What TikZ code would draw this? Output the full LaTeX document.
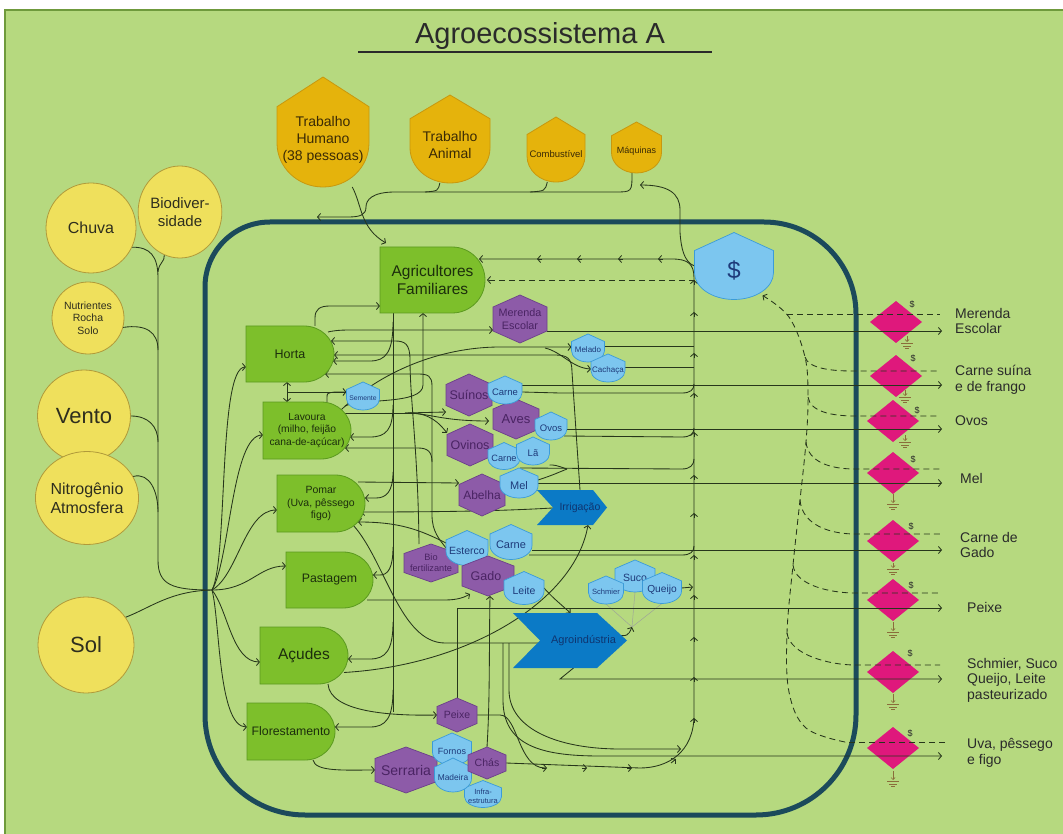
\documentclass[tikz,border=0pt]{standalone}
\usepackage{fontspec}
\setmainfont{Liberation Sans}
\usetikzlibrary{arrows.meta,calc,shapes.geometric}
\pgfdeclarelayer{back}\pgfdeclarelayer{lines}
\pgfsetlayers{back,lines,main}
\definecolor{bg}{HTML}{B6D97F}
\definecolor{frame}{HTML}{6F9A3C}
\definecolor{bnd}{HTML}{1B4A5B}
\definecolor{ysrc}{HTML}{EFE05C}
\definecolor{ysrcb}{HTML}{B09A3A}
\definecolor{srct}{HTML}{2E2E1E}
\definecolor{gold}{HTML}{E5B30C}
\definecolor{goldb}{HTML}{C8980E}
\definecolor{goldt}{HTML}{3A2A05}
\definecolor{prodf}{HTML}{7DBF2B}
\definecolor{prodb}{HTML}{5B9A1F}
\definecolor{prodt}{HTML}{1C2E0C}
\definecolor{purf}{HTML}{8D5BA8}
\definecolor{purb}{HTML}{6B3F8A}
\definecolor{purt}{HTML}{4A2463}
\definecolor{blf}{HTML}{7CC6EF}
\definecolor{blb}{HTML}{3B9BD8}
\definecolor{blt}{HTML}{1E3A7A}
\definecolor{chev}{HTML}{0B7AC6}
\definecolor{chevt}{HTML}{0F3570}
\definecolor{pink}{HTML}{DF187C}
\definecolor{lc}{HTML}{27361B}
\definecolor{gndc}{HTML}{8A6D3B}
\definecolor{titc}{HTML}{2A2A2A}
\newcommand\fs[1]{\fontsize{#1}{\dimexpr #1pt*6/5\relax}\selectfont}
\tikzset{
  shp/.style={inner sep=0pt,outer sep=0pt,align=center},
  srcs/.style={ellipse,draw=ysrcb,fill=ysrc,line width=0.8pt,inner sep=0pt,align=center,text=srct},
  hexs/.style={fill=purf,draw=purb,line width=0.7pt},
  prods/.style={fill=prodf,draw=prodb,line width=0.8pt},
  blsh/.style={fill=blf,draw=blb,line width=0.7pt},
  blshtxt/.style={text=blt},
  goldsh/.style={fill=gold,draw=goldb,line width=0.8pt},
  goldshtxt/.style={text=goldt},
  chevs/.style={fill=chev},
  pinks/.style={fill=pink},
  ln/.style={draw=lc,line width=0.85pt},
  arr/.style={ln,-{Straight Barb[length=3pt,width=7pt]}},
  dbl/.style={ln,{Straight Barb[length=3pt,width=7pt]}-{Straight Barb[length=3pt,width=7pt]}},
  dsh/.style={draw=lc,line width=0.85pt,dash pattern=on 6pt off 4pt},
  thinl/.style={draw=lc!45,line width=0.5pt},
  gnd/.style={draw=gndc,line width=0.7pt},
  mk/.style={anchor=west,align=left,inner sep=0pt,text=titc,font=\fontsize{14}{15.5}\selectfont},
}
\newcommand\shieldn[8]{%
  \pgfmathsetmacro\shrx{#5/2}%
  \pgfmathsetmacro\shry{#6*0.4}%
  \path[#1] (#3,#4-#6/2) -- (#3+#5/2,#4-#6/2+#6*0.27) -- (#3+#5/2,#4+#6/2-\shry) arc[start angle=0,end angle=-180,x radius=\shrx pt,y radius=\shry pt] -- (#3-#5/2,#4-#6/2+#6*0.27) -- cycle;
  \node[shp,minimum width=#5pt,minimum height=#6pt] (#2) at (#3,#4) {};
  \node[shp,#1txt,font=\fs{#7}] (#2-t) at (#3,#4+#6*0.07) {#8};}
\newcommand\hexn[7]{%
  \path[hexs] (#2,#3-#5/2) -- (#2+#4/2,#3-#5/4) -- (#2+#4/2,#3+#5/4) -- (#2,#3+#5/2) -- (#2-#4/2,#3+#5/4) -- (#2-#4/2,#3-#5/4) -- cycle;
  \node[shp,text=purt,minimum width=#4pt,minimum height=#5pt,font=\fs{#6}] (#1) at (#2,#3) {#7};}
\newcommand\dnode[8]{%
  \pgfmathsetmacro\dry{#5/2}%
  \path[prods] (#2,#3) -- (#2+#4-#6,#3) arc[start angle=90,end angle=-90,x radius=#6pt,y radius=\dry pt] -- (#2,#3+#5) -- cycle;
  \node[shp,text=prodt,minimum width=#4pt,minimum height=#5pt,font=\fs{#7}] (#1) at (#2+#4/2,#3+#5/2) {#8};}
\newcommand\chevn[9]{%
  \pgfmathsetmacro\chw{#4-#2-#6}%
  \path[chevs] (#2,#3) -- (#4-#7,#3) -- (#4,#3/2+#5/2) -- (#4-#7,#5) -- (#2,#5) -- (#2+#6,#3/2+#5/2) -- cycle;
  \node[shp,text=chevt,minimum width=\chw pt,minimum height=#5pt-#3pt,font=\fs{#8}] (#1) at (#2/2+#4/2+#6/2,#3/2+#5/2) {#9};}
\newcommand\dmdn[3]{%
  \path[pinks] (#2,#3-21) -- (#2+26,#3) -- (#2,#3+21) -- (#2-26,#3) -- cycle;
  \node[shp,minimum width=52pt,minimum height=42pt] (#1) at (#2,#3) {};}
\newcommand\gsym[3]{%
  \draw[gnd,-{Straight Barb[length=2pt,width=4pt]}] (#1,#2) -- (#1,#3);
  \draw[gnd] (#1-6,#3+1.5) -- (#1+6,#3+1.5) (#1-4,#3+4) -- (#1+4,#3+4) (#1-2,#3+6.5) -- (#1+2,#3+6.5);}
\begin{document}
\begin{tikzpicture}[x=1pt,y=-1pt]
\useasboundingbox (0,0) rectangle (1063,834);
\begin{pgfonlayer}{back}
\fill[white] (0,0) rectangle (1063,834);
\draw[draw=frame,fill=bg,line width=2.5pt] (5,10) rectangle (1068,840);
\draw[draw=bnd,line width=5pt] (205,300) -- (205,287) arc[start angle=180,end angle=90,radius=65pt] -- (764,222) arc[start angle=90,end angle=0,radius=92pt] -- (856,715) arc[start angle=0,end angle=-90,radius=100pt] -- (305,815) arc[start angle=270,end angle=180,radius=100pt] -- cycle;
\dmdn{d1}{896}{322}
\dmdn{d2}{896}{376}
\dmdn{d3}{893}{421}
\dmdn{d4}{893}{473}
\dmdn{d5}{893}{541}
\dmdn{d6}{893}{600}
\dmdn{d7}{893}{672}
\dmdn{d8}{893}{748}
\end{pgfonlayer}

% title
\node[font=\fs{29},text=titc,inner sep=0pt] (title) at (540,36) {Agroecossistema A};
\draw[draw=titc,line width=2pt] (358,52) -- (712,52);

% sources
\node[srcs,minimum width=90pt,minimum height=90pt,font=\fs{16}] (chuva) at (91,228) {Chuva};
\node[srcs,minimum width=80pt,minimum height=92pt,font=\fs{15}] (bio) at (180,212) {Biodiver-\\sidade};
\node[srcs,minimum width=72pt,minimum height=72pt,font=\fs{10.5}] (nutr) at (88,318) {Nutrientes\\Rocha\\Solo};
\node[srcs,minimum width=93pt,minimum height=92pt,font=\fs{22}] (vento) at (84,416) {Vento};
\node[srcs,minimum width=90pt,minimum height=93pt,font=\fs{16}] (nitro) at (87,498) {Nitrogênio\\Atmosfera};
\node[srcs,minimum width=96pt,minimum height=96pt,font=\fs{22}] (sol) at (86,645) {Sol};

% top inputs
\shieldn{goldsh}{th}{323}{132}{92}{110}{14}{Trabalho\\Humano\\(38 pessoas)}
\shieldn{goldsh}{ta}{450}{139}{80}{88}{14}{Trabalho\\Animal}
\shieldn{goldsh}{comb}{556}{149.5}{58}{65}{9.5}{Combustível}
\shieldn{goldsh}{maq}{636.5}{147.5}{50}{51}{9}{Máquinas}

% producers
\dnode{agr}{380}{247}{105}{66}{33}{15.5}{Agricultores\\Familiares}
\dnode{horta}{246}{326}{88}{56}{30}{12.5}{Horta}
\dnode{lav}{263}{402}{88}{57}{30}{10.3}{Lavoura\\(milho, feijão\\cana-de-açúcar)}
\dnode{pomar}{277}{475}{88}{57}{30}{10.5}{Pomar\\(Uva, pêssego\\figo)}
\dnode{past}{286}{552}{87}{56}{30}{12.3}{Pastagem}
\dnode{acud}{260}{627}{88}{57}{30}{15.5}{Açudes}
\dnode{flor}{247}{703}{88}{57}{30}{12.3}{Florestamento}

% consumers
\hexn{mer}{520}{319}{54}{48}{10.8}{Merenda\\Escolar}
\hexn{sui}{469}{395}{46}{42}{12.5}{Suínos}
\hexn{aves}{516}{419}{46}{40}{13}{Aves}
\hexn{ovi}{470}{445}{46}{42}{12.5}{Ovinos}
\hexn{abe}{482}{495}{46}{42}{12}{Abelha}
\hexn{biof}{431}{563}{54}{38}{9.2}{Bio\\fertilizante}
\hexn{peixe}{457}{715}{40}{34}{10.5}{Peixe}
\hexn{serr}{406}{770}{62}{46}{14}{Serraria}

% products (blue)
\shieldn{blsh}{semente}{363}{396}{33}{28}{6.8}{Semente}
\shieldn{blsh}{melado}{588}{348}{33}{28}{8}{Melado}
\shieldn{blsh}{cachaca}{608}{368}{34}{28}{8}{Cachaça}
\shieldn{blsh}{carneS}{505}{390}{34}{28}{9.5}{Carne}
\shieldn{blsh}{ovos}{551}{426}{32}{28}{9.5}{Ovos}
\shieldn{blsh}{carneO}{504}{456}{32}{27}{9.2}{Carne}
\shieldn{blsh}{la}{533}{451}{33}{28}{9.5}{Lã}
\shieldn{blsh}{mel}{519}{483}{38}{30}{11}{Mel}
\shieldn{blsh}{esterco}{467}{548}{42}{35}{10.5}{Esterco}
\shieldn{blsh}{carneG}{511}{542}{42}{35}{11}{Carne}
\hexn{gado}{488}{576}{52}{40}{12.5}{Gado\hspace*{4pt}}
\shieldn{blsh}{leite}{524}{588}{40}{33}{10.5}{Leite}
\shieldn{blsh}{suco}{635}{576}{40}{32}{10.5}{Suco}
\shieldn{blsh}{schmier}{606}{590}{35}{28}{7.6}{Schmier}
\shieldn{blsh}{queijo}{662}{588}{39}{31}{10.2}{Queijo}
\shieldn{blsh}{fornos}{452}{749}{39}{32}{9}{Fornos}
\shieldn{blsh}{infra}{483}{794}{37}{27}{7.5}{Infra-\\estrutura}
\shieldn{blsh}{madeira}{453}{775}{37}{34}{8.4}{Madeira}
\hexn{chas}{487}{763}{38}{32}{10.5}{Chás}
\shieldn{blsh}{dollar}{734}{266}{79}{67}{24}{\$}

% chevrons
\chevn{irr}{537}{490}{607}{525}{16}{14}{10.5}{Irrigação}
\chevn{agro}{513}{613}{627}{668}{27}{30}{11}{Agroindústria}

% market labels
\node[mk] (mk1) at (955,321) {Merenda\\Escolar};
\node[mk] (mk2) at (955,380) {Carne suína\\e de frango};
\node[mk] (mk3) at (955,421) {Ovos};
\node[mk] (mk4) at (960,478) {Mel};
\node[mk] (mk5) at (960,545) {Carne de\\Gado};
\node[mk] (mk6) at (967,607) {Peixe};
\node[mk] (mk7) at (967,680) {Schmier, Suco\\Queijo, Leite\\pasteurizado};
\node[mk] (mk8) at (967,753) {Uva, pêssego\\e figo};
\foreach \n/\x/\y in {1/912/304,2/913/358,3/917/410,4/913/459,5/911/526,6/911/585,7/910/653,8/910/733}
  \node[font=\fs{9},text=titc,inner sep=0pt] (ds\n) at (\x,\y) {\$};

\coordinate (J) at (212,590);
\coordinate (o1) at (942,331);
\coordinate (o2) at (942,385);
\coordinate (o3) at (942,429);
\coordinate (o4) at (942,483);
\coordinate (o5) at (942,550);
\coordinate (o6) at (942,608);
\coordinate (o7) at (942,679);
\coordinate (o8) at (942,756);

\begin{pgfonlayer}{lines}
% left trunk
\draw[ln] (chuva.-25) .. controls (150,247) and (158,256) .. (158,278) -- (158,560) .. controls (158,585) and (172,590) .. (J);
\draw[ln] (bio.250) .. controls (165,262) and (159,262) .. (158,272);
\draw[ln] (nutr.-15) .. controls (146,324) and (158,332) .. (158,350);
\draw[ln] (vento.east) .. controls (148,416) and (158,426) .. (158,442);
\draw[ln] (nitro.25) .. controls (150,472) and (158,492) .. (158,512);
\draw[ln] (sol.35) .. controls (150,608) and (170,591) .. (J);
% fan to producers
\draw[arr] (J) .. controls (228,560) and (218,367) .. ([yshift=-13pt]horta.west);
\draw[arr] (J) .. controls (230,560) and (232,435) .. ([yshift=-4.5pt]lav.west);
\draw[arr] (J) .. controls (238,575) and (245,510) .. ([yshift=-6.5pt]pomar.west);
\draw[arr] (J) .. controls (250,590) and (258,566) .. ([yshift=14pt]past.west);
\draw[arr] (J) .. controls (228,610) and (232,662) .. ([yshift=-6.5pt]acud.west);
\draw[arr] (J) .. controls (220,620) and (218,727) .. ([yshift=4.5pt]flor.west);
% top inputs
\draw[arr] (th.-62) .. controls (362,205) and (360,228) .. (386,243);
\draw[arr] (maq.-100) .. controls (632,192) .. (615,192) -- (395,192) .. controls (372,192) and (366,200) .. (366,207) .. controls (366,215) and (360,217) .. (348,217) -- (317,217);
\draw[ln] (ta.-103) .. controls (438,191) .. (425,192);
\draw[ln] (comb.-105) .. controls (545,191) .. (530,192);
\draw[arr] (dollar.west) .. controls (684,262) and (681,248) .. (680,232) -- (680,210) .. controls (680,193) and (668,185) .. (640,185);
% collector
\draw[arr] (chas.east) -- (640,768) .. controls (668,768) and (694,752) .. (694,715) -- (694,278) .. controls (694,264) and (688,259) .. (672,259) -- ([xshift=-6pt,yshift=21pt]agr.east);
\foreach \yy in {718,677,637,595,555,513,475,432,393,353,312,280}
  \draw[arr] (694,\yy+5) -- (694,\yy);
\foreach \xx in {658,618,577,537}
  \draw[arr] (\xx+5,259) -- (\xx,259);
\foreach \xx in {547,587,632}
  \draw[arr] (\xx-5,768) -- (\xx,768);
\draw[arr] (671,763) -- (676,759);
\draw[dsh,-{Straight Barb[length=3pt,width=7pt]}] ([yshift=-14pt]dollar.west) -- ([xshift=2pt]agr.east);
% dashed money trunk
\draw[dsh] (945,742) -- (845,742);
\draw[dsh,-{Straight Barb[length=3pt,width=7pt]}] plot[smooth,tension=0.6] coordinates {(845,742) (806,728) (789,692) (787,633) (793,565) (800,500) (806,442) (808,397) (805,357) (789,317) ([xshift=-11pt,yshift=4pt]dollar.south east)};
\draw[dsh] (787,314) -- (940,314);
\draw[dsh] (805,357) .. controls (808,368) and (830,371) .. (852,371) -- (940,371);
\draw[dsh] (808,397) .. controls (810,411) and (830,416) .. (855,416) -- (940,416);
\draw[dsh] (806,442) .. controls (808,462) and (830,469) .. (855,469) -- (942,469);
\draw[dsh] (800,500) .. controls (802,525) and (830,534) .. (855,534) -- (940,534);
\draw[dsh] (793,565) .. controls (795,585) and (830,593) .. (855,593) -- (940,593);
\draw[dsh] (787,633) .. controls (790,655) and (830,665) .. (855,665) -- (940,665);
% farmers distribute labour
\draw[ln] ([xshift=-39.5pt]agr.south) -- (393,712);
\draw[arr] (393,322) .. controls (393,352) and (386,361) .. (370,361) -- ([xshift=-1pt,yshift=-7pt]horta.east);
\draw[arr] (393,405) .. controls (393,430) and (386,437) .. (370,437) -- ([xshift=-1pt,yshift=-6.5pt]lav.east);
\draw[arr] (393,472) .. controls (393,492) and (386,498) .. (376,498) -- ([yshift=5.5pt]pomar.east);
\draw[arr] (393,547) .. controls (393,568) and (388,575) .. (380,575) -- ([yshift=5pt]past.east);
\draw[arr] (393,622) .. controls (393,650) and (386,659) .. (370,659) -- ([yshift=-3.5pt]acud.east);
\draw[arr] (393,690) .. controls (393,718) and (386,727) .. (370,727) -- ([yshift=4.5pt]flor.east);
% horta
\draw[arr] ([xshift=25pt]horta.north) -- (315,318) .. controls (315,309) and (320,306) .. (330,306) -- ([yshift=-26pt]agr.west);
\draw[arr] ([xshift=-6pt,yshift=-6pt]horta.north east) .. controls (332,331) and (338,330) .. (350,330) -- ([yshift=-11pt]mer.west);
\draw[arr] ([xshift=-12pt]biof.north) .. controls (418,450) and (410,400) .. (410,360) .. controls (410,344) and (405,341) .. (395,341) -- ([xshift=-3pt,yshift=13pt]horta.east);
\draw[arr] (irr.north) -- (572,372) .. controls (572,358) and (567,355) .. (555,355) -- ([yshift=-1pt]horta.east);
\draw[arr] (esterco.west) .. controls (440,540) and (432,532) .. (432,515) -- (432,386) .. controls (432,376) and (428,374) .. (418,374) -- ([xshift=-9pt,yshift=-20pt]horta.east);
\draw[arr] (432,462) .. controls (432,452) and (428,448) .. (418,448) -- ([xshift=-6pt,yshift=-17.5pt]lav.east);
\draw[arr] ([yshift=5pt]esterco.west) .. controls (420,530) and (400,522) .. ([xshift=-7pt,yshift=-18.5pt]pomar.east);
\draw[arr] ([xshift=-19pt]irr.center) .. controls (520,510) and (470,512) .. ([xshift=-4pt,yshift=-8.5pt]pomar.east);
% lavoura
\draw[arr] ([xshift=20pt]lav.north) -- (327,398) .. controls (327,393) .. (335,392) -- ([yshift=4pt]semente.west);
\draw[ln] ([yshift=4pt]semente.west) -- (287,392);
\draw[dbl] ([xshift=-3pt]horta.south) -- ([xshift=-20pt]lav.north);
\draw[arr] ([xshift=-6pt,yshift=-4pt]lav.north east) .. controls (362,398) and (423,405) .. (423,385) -- ([xshift=-9.5pt]agr.south);
\draw[arr] ([xshift=-10pt,yshift=-8pt]lav.north east) .. controls (380,372) and (440,347) .. (500,347) -- ([yshift=1pt]melado.west);
\draw[arr] (545,348) .. controls (562,352) and (572,368) .. ([yshift=-1pt]cachaca.west);
\draw[ln] ([xshift=-6pt,yshift=17.5pt]lav.east) -- (418,413);
\draw[arr] (405,413) -- ([yshift=-17pt]sui.west);
\draw[arr] (405,413) .. controls (430,413) and (440,421) .. ([xshift=-4pt,yshift=-2pt]aves.west);
\draw[arr] (410,413) .. controls (430,413) and (440,424) .. ([yshift=12pt]ovi.west);
% pomar, pastagem, acudes, florestamento
\draw[arr] ([xshift=-7pt,yshift=-7pt]pomar.north east) -- ([yshift=12pt]abe.west);
\draw[arr] ([xshift=-12pt,yshift=7pt]pomar.south east) .. controls (385,560) and (400,643) .. (445,643) -- ([xshift=24pt,yshift=-2.5pt]agro.west);
\draw[arr] ([xshift=-6pt,yshift=8pt]past.south east) -- (445,600) .. controls (458,600) and (465,597) .. ([xshift=8pt,yshift=2pt]gado.south west);
\draw[arr] ([xshift=-4pt,yshift=-17pt]acud.east) .. controls (470,665) and (575,600) .. ([xshift=8pt]irr.south);
\draw[arr] ([xshift=-20pt]acud.south east) .. controls (330,712) and (390,716) .. (peixe.west);
\draw[arr] ([xshift=-22pt]flor.south east) .. controls (315,772) and (345,770) .. (serr.west);
% animals & processing
\draw[arr] (chas.north) .. controls (490,700) and (489,650) .. ([xshift=2pt]gado.south);
\draw[ln] (peixe.east) -- (500,715) .. controls (518,715) and (518,768) .. (545,768);
\draw[arr] (leite.east) .. controls (552,597) and (557,601) .. ([xshift=-13pt]agro.north);
\draw[arr] ([xshift=-12pt,yshift=5pt]agro.east) .. controls (628,636) .. (632,627);
\draw[thinl] (schmier.south) -- (632,627) (suco.south) -- (632,627) (queijo.south) -- (632,627);
\draw[arr] (queijo.east) -- (693,587);
\coordinate (b1) at (503,643);
\coordinate (b2) at (509,643);
\draw[arr] (b1) -- (503,700) .. controls (503,745) and (540,756) .. (600,756) -- (o8);
\draw[arr] (b2) -- (509,690) .. controls (509,730) and (560,749) .. (620,749) -- (681,749);
% outputs to market
\draw[arr] ([yshift=-12pt]mer.east) -- (o1);
\draw[arr] ([yshift=5pt]carneS.east) -- (o2);
\draw[ln] ([yshift=-2pt]carneS.east) -- (560,393) -- (682,393) .. controls (690,393) and (694,390) .. (694,384);
\draw[arr] ([yshift=-3pt]ovos.east) -- (o3);
\draw[ln] ([xshift=-3pt,yshift=-10pt]ovos.east) -- (682,437) .. controls (690,437) and (694,434) .. (694,428);
\draw[ln] ([yshift=-12pt]carneO.east) -- (682,469) .. controls (690,469) and (694,465) .. (694,459);
\draw[ln] (la.south east) .. controls (555,465) .. (567,469);
\draw[ln] ([yshift=3pt]mel.east) .. controls (550,476) .. (567,469);
\draw[arr] (mel.east) -- (o4);
\draw[ln] ([yshift=2pt]melado.east) -- (694,346);
\draw[ln] ([yshift=1pt]cachaca.east) -- (694,367);
\draw[arr] ([yshift=-8pt]carneG.east) -- (o5);
\draw[ln] ([xshift=-3pt,yshift=-13pt]carneG.east) -- (682,555) .. controls (690,555) and (694,552) .. (694,546);
\draw[arr] (peixe.north) -- (457,608) -- (o6);
\draw[arr] ([xshift=-10pt]agro.south) -- (560,679) -- (o7);
% ground symbols
\gsym{907}{336}{342}
\gsym{905}{390}{396}
\gsym{905}{435}{441}
\gsym{893}{494}{503}
\gsym{893}{563}{568}
\gsym{893}{622}{631}
\gsym{893}{694}{703}
\gsym{893}{771}{780}
\end{pgfonlayer}
\end{tikzpicture}
\end{document}
